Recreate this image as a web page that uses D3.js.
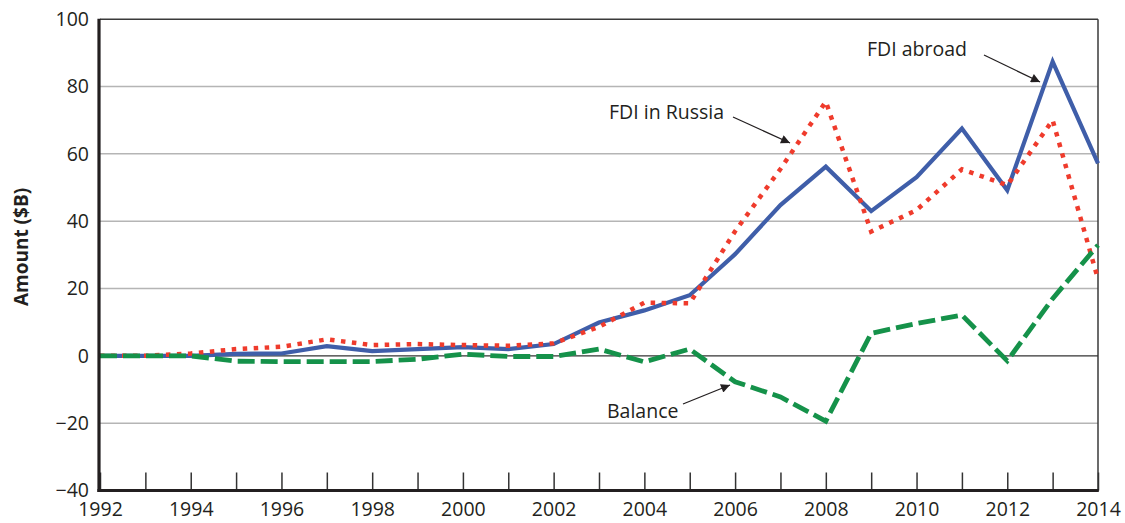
<!DOCTYPE html>
<html>
<head>
<meta charset="utf-8">
<script src="https://cdn.jsdelivr.net/npm/d3@7"></script>
<style>
  html, body { margin: 0; padding: 0; background: #fff; }
  svg { display: block; }
  text { font-family: "Open Sans", "Noto Sans", sans-serif; fill: #231f20; }
</style>
</head>
<body>
<svg id="chart" width="1125" height="523"></svg>
<script>
const years = d3.range(1992, 2015);
const fdiAbroad = [0, 0, 0, 0.6, 0.7, 2.9, 1.4, 2.0, 2.6, 2.0, 3.5, 9.9, 13.5, 18.0, 30.2, 44.8, 56.2, 43.0, 53.1, 67.5, 49.2, 87.4, 57.2];
const fdiInRussia = [0, 0, 0.7, 2.0, 2.7, 4.9, 3.2, 3.5, 3.2, 3.0, 3.7, 8.6, 15.8, 15.6, 37.0, 55.5, 75.5, 36.9, 43.3, 55.4, 50.7, 70.0, 22.8];
const balance = [0, 0, 0, -1.6, -1.7, -1.7, -1.7, -1.0, 0.5, -0.2, -0.2, 2.0, -1.8, 2.0, -7.7, -12.2, -19.4, 6.7, 9.6, 12.1, -1.5, 17.0, 32.9];
const yTicks = [-40, -20, 0, 20, 40, 60, 80, 100];
const xLabelYears = [1992, 1994, 1996, 1998, 2000, 2002, 2004, 2006, 2008, 2010, 2012, 2014];
const yAxisTitle = "Amount ($B)";
const annotations = [
  { label: "FDI abroad", tx: 867, ty: 56, x1: 984, y1: 55, x2: 1040, y2: 82 },
  { label: "FDI in Russia", tx: 609, ty: 119, x1: 733, y1: 117, x2: 790, y2: 143 },
  { label: "Balance", tx: 607, ty: 418, x1: 683, y1: 404, x2: 730, y2: 385 }
];

const svg = d3.select("#chart");
const L = 100, R = 1098, T = 19.2, B = 490.5;
const x = d3.scaleLinear().domain([1992, 2014]).range([L, R]);
const y = d3.scaleLinear().domain([-40, 100]).range([B, T]);

// gridlines
svg.append("g").selectAll("line")
  .data(yTicks.filter(v => v !== 0 && v !== -40 && v !== 100))
  .join("line")
  .attr("x1", L).attr("x2", R)
  .attr("y1", d => y(d)).attr("y2", d => y(d))
  .attr("stroke", "#b5b5b5").attr("stroke-width", 1.5);

// top border & right border
svg.append("line").attr("x1", L).attr("x2", R).attr("y1", y(100)).attr("y2", y(100))
  .attr("stroke", "#3a3a3a").attr("stroke-width", 1.5);
svg.append("line").attr("x1", R).attr("x2", R).attr("y1", y(100)).attr("y2", B)
  .attr("stroke", "#3a3a3a").attr("stroke-width", 1.5);

// zero line
svg.append("line").attr("x1", L).attr("x2", R).attr("y1", y(0)).attr("y2", y(0))
  .attr("stroke", "#333").attr("stroke-width", 1.3);

// bottom axis
const xAxis = d3.axisBottom(x).tickValues(years).tickSize(-18).tickPadding(12)
  .tickFormat(d => xLabelYears.includes(d) ? String(d) : "");
const gx = svg.append("g").attr("transform", `translate(0,${B})`).call(xAxis);
gx.select(".domain").remove();
gx.selectAll(".tick line").attr("stroke", "#333").attr("stroke-width", 1.5);
gx.selectAll(".tick text").attr("font-size", 19.5).attr("fill", "#231f20")
  .style("font-family", '"Open Sans", "Noto Sans", sans-serif');

// left axis labels
const yAxis = d3.axisLeft(y).tickValues(yTicks).tickSize(0).tickPadding(11).tickFormat(d3.format("d"));
const gy = svg.append("g").attr("transform", `translate(${L},0)`).call(yAxis);
gy.select(".domain").remove();
gy.selectAll(".tick text").attr("font-size", 19.5).attr("fill", "#231f20")
  .style("font-family", '"Open Sans", "Noto Sans", sans-serif');

// lines
const line = d3.line().x((d, i) => x(years[i])).y(d => y(d));
svg.append("path").datum(fdiAbroad).attr("d", line)
  .attr("fill", "none").attr("stroke", "#3f5ea9").attr("stroke-width", 4.2)
  .attr("stroke-linejoin", "miter");
svg.append("path").datum(fdiInRussia).attr("d", line)
  .attr("fill", "none").attr("stroke", "#ef3b2c").attr("stroke-width", 4.5)
  .attr("stroke-dasharray", "4.5,6.5");
svg.append("path").datum(balance).attr("d", line)
  .attr("fill", "none").attr("stroke", "#15924a").attr("stroke-width", 4.8)
  .attr("stroke-dasharray", "17,6");

// axes lines (thick)
svg.append("line").attr("x1", L - 1).attr("x2", L - 1).attr("y1", y(100) - 0.5).attr("y2", B + 1.5)
  .attr("stroke", "#231f20").attr("stroke-width", 3.2);
svg.append("line").attr("x1", L - 2.6).attr("x2", R + 0.8).attr("y1", B).attr("y2", B)
  .attr("stroke", "#231f20").attr("stroke-width", 3);

// y axis title
svg.append("text")
  .attr("transform", `translate(28,247) rotate(-90)`)
  .attr("text-anchor", "middle")
  .attr("font-size", 19).attr("font-weight", "bold")
  .text(yAxisTitle);

// annotations
const defs = svg.append("defs");
defs.append("marker").attr("id", "arr").attr("viewBox", "0 0 10 10")
  .attr("refX", 10).attr("refY", 5).attr("markerWidth", 12).attr("markerHeight", 9)
  .attr("markerUnits", "userSpaceOnUse").attr("orient", "auto")
  .append("path").attr("d", "M0,0 L10,5 L0,10 z").attr("fill", "#231f20");

const ga = svg.append("g");
annotations.forEach(a => {
  ga.append("text").attr("x", a.tx).attr("y", a.ty).attr("font-size", 19.5).text(a.label);
  ga.append("line").attr("x1", a.x1).attr("y1", a.y1).attr("x2", a.x2).attr("y2", a.y2)
    .attr("stroke", "#231f20").attr("stroke-width", 1.3).attr("marker-end", "url(#arr)");
});
</script>
</body>
</html>
